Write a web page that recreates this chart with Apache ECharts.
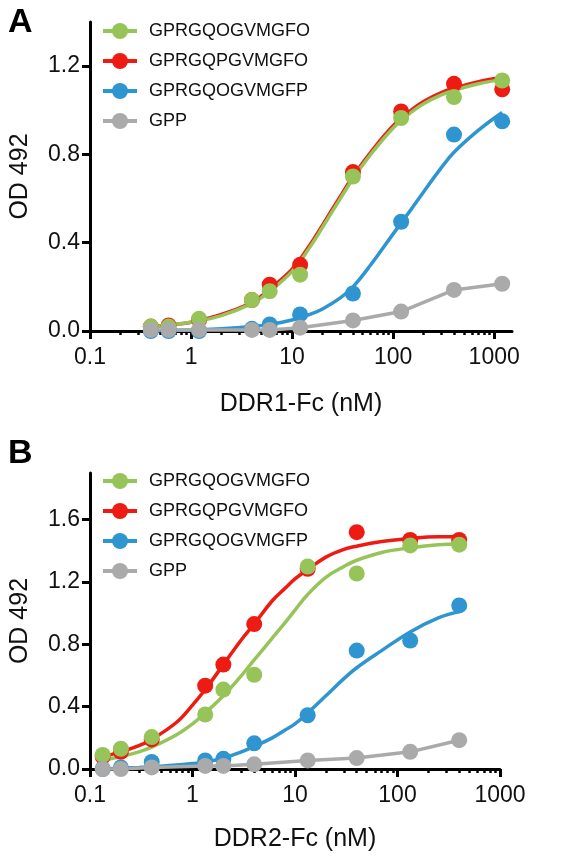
<!DOCTYPE html>
<html>
<head>
<meta charset="utf-8">
<script src="https://cdn.jsdelivr.net/npm/echarts@6/dist/echarts.min.js"></script>
<style>
html,body{margin:0;padding:0;background:#fff;}
#chart{width:566px;height:858px;}
</style>
</head>
<body>
<div id="chart"></div>
<script>
// ---------- DATA ----------
const seriesNames = ['GPRGQOGVMGFO', 'GPRGQPGVMGFO', 'GPRGQOGVMGFP', 'GPP'];

// Panel A: DDR1-Fc (nM)
const xA = [0.4, 0.6, 1.2, 4, 6, 12, 40, 120, 400, 1200];
const greenA = [0.02, 0.02, 0.055, 0.14, 0.18, 0.255, 0.70, 0.965, 1.06, 1.135];
const redA   = [0.02, 0.025, 0.05, 0.14, 0.21, 0.30, 0.72, 0.995, 1.12, 1.095];
const blueA  = [0.0, 0.0, 0.0, 0.01, 0.03, 0.075, 0.17, 0.495, 0.89, 0.95];
const greyA  = [0.005, 0.005, 0.005, 0.005, 0.005, 0.015, 0.048, 0.088, 0.186, 0.214];

// Panel A fitted curves
const curveXA = [0.4, 0.7, 1, 2, 4, 6, 10, 15, 20, 30, 40, 60, 100, 150, 200, 300, 400, 700, 1200];
const redCurveA   = [0.02, 0.03, 0.04, 0.075, 0.13, 0.19, 0.28, 0.39, 0.48, 0.61, 0.70, 0.81, 0.93, 1.00, 1.04, 1.08, 1.10, 1.13, 1.15];
const greenCurveA = [0.02, 0.03, 0.04, 0.07, 0.125, 0.18, 0.27, 0.38, 0.47, 0.60, 0.69, 0.80, 0.92, 0.99, 1.03, 1.07, 1.09, 1.12, 1.14];
const blueCurveXA = [0.4, 1, 2, 4, 6, 10, 15, 20, 30, 40, 60, 100, 150, 200, 300, 400, 700, 1200];
const blueCurveA  = [0.0, 0.005, 0.01, 0.02, 0.03, 0.05, 0.075, 0.10, 0.15, 0.20, 0.30, 0.44, 0.55, 0.63, 0.74, 0.81, 0.91, 0.99];

// Panel B: DDR2-Fc (nM)
const xB = [0.133, 0.2, 0.4, 1.33, 2, 4, 13.3, 40, 133, 400];
const greenB = [0.09, 0.13, 0.205, 0.35, 0.51, 0.605, 1.30, 1.255, 1.435, 1.44];
const redB   = [0.08, 0.11, 0.19, 0.535, 0.67, 0.93, 1.285, 1.52, 1.47, 1.47];
const blueB  = [0.0, 0.01, 0.045, 0.055, 0.065, 0.165, 0.345, 0.76, 0.825, 1.05];
const greyB  = [0.0, 0.0, 0.01, 0.02, 0.02, 0.03, 0.055, 0.07, 0.11, 0.185];

// Panel B fitted curves
const curveXB = [0.133, 0.2, 0.3, 0.4, 0.7, 1, 1.33, 2, 3, 4, 6, 8, 10, 13.3, 20, 30, 40, 70, 133, 250, 400];
const redCurveB   = [0.08, 0.11, 0.15, 0.19, 0.30, 0.41, 0.51, 0.67, 0.83, 0.93, 1.08, 1.16, 1.22, 1.28, 1.36, 1.41, 1.43, 1.46, 1.48, 1.49, 1.49];
const greenCurveB = [0.055, 0.08, 0.11, 0.14, 0.22, 0.29, 0.36, 0.47, 0.60, 0.70, 0.84, 0.94, 1.02, 1.12, 1.23, 1.30, 1.34, 1.39, 1.42, 1.44, 1.445];
const blueCurveB  = [0.0, 0.005, 0.01, 0.015, 0.025, 0.035, 0.045, 0.07, 0.11, 0.145, 0.20, 0.25, 0.29, 0.36, 0.47, 0.58, 0.65, 0.76, 0.88, 0.97, 1.01];

// Axis ticks
const xTickValues = [0.1, 1, 10, 100, 1000];
const xTickLabels = ['0.1', '1', '10', '100', '1000'];
const yTicksA = [0, 0.4, 0.8, 1.2];
const yTicksB = [0, 0.4, 0.8, 1.2, 1.6];
const yTickLabelsA = ['0.0', '0.4', '0.8', '1.2'];
const yTickLabelsB = ['0.0', '0.4', '0.8', '1.2', '1.6'];
const minorTicksX = [];
[0.1, 1, 10, 100, 1000].forEach(d => { for (let k = 2; k <= 9; k++) minorTicksX.push(+(k * d).toPrecision(3)); });

// ---------- STYLE ----------
const colors = {
  'GPRGQOGVMGFO': '#97c459',
  'GPRGQPGVMGFO': '#ee1b12',
  'GPRGQOGVMGFP': '#2f95d1',
  'GPP': '#aaaaaa'
};
const FONT = 'Liberation Sans, Arial, Helvetica, sans-serif';
const pairs = (xs, ys) => xs.map((x, i) => [x, ys[i]]);

const chart = echarts.init(document.getElementById('chart'), null, {renderer: 'canvas'});

function xAxesFor(gridIndex, max, name, nameGap) {
  const fmt = v => {
    const i = xTickValues.findIndex(t => Math.abs(t - v) < 1e-9 * Math.max(1, t));
    return i >= 0 ? xTickLabels[i] : '';
  };
  return [
    {
      type: 'log', logBase: 10, gridIndex, min: 0.1, max,
      name, nameLocation: 'middle', nameGap,
      nameTextStyle: {fontFamily: FONT, fontSize: 25, color: '#111'},
      axisLine: {show: true, lineStyle: {color: '#000', width: 3}},
      axisTick: {show: true, inside: false, length: 8, lineStyle: {color: '#000', width: 3}, customValues: xTickValues},
      axisLabel: {show: true, margin: 15, fontFamily: FONT, fontSize: 23, color: '#111', customValues: xTickValues, formatter: fmt},
      splitLine: {show: false}, minorTick: {show: false}
    },
    {
      type: 'log', logBase: 10, gridIndex, min: 0.1, max, position: 'bottom',
      axisLine: {show: false},
      axisTick: {show: true, inside: false, length: 4, lineStyle: {color: '#000', width: 2.5}, customValues: minorTicksX},
      axisLabel: {show: false},
      splitLine: {show: false}
    }
  ];
}

function yAxisFor(gridIndex, max, ticks, labels) {
  return {
    type: 'value', gridIndex, min: 0, max,
    name: 'OD 492', nameLocation: 'middle', nameGap: 57, nameRotate: 90,
    nameTextStyle: {fontFamily: FONT, fontSize: 25, color: '#111'},
    axisLine: {show: true, lineStyle: {color: '#000', width: 3}},
    axisTick: {show: true, length: 8, lineStyle: {color: '#000', width: 3}, customValues: ticks},
    axisLabel: {show: true, margin: 10, fontFamily: FONT, fontSize: 23, color: '#111', customValues: ticks,
      formatter: v => { const i = ticks.findIndex(t => Math.abs(t - v) < 1e-9); return i >= 0 ? labels[i] : ''; }},
    splitLine: {show: false}
  };
}

function curveSeries(name, xs, ys, xIdx, yIdx) {
  return {
    name, type: 'line', xAxisIndex: xIdx, yAxisIndex: yIdx,
    data: pairs(xs, ys), smooth: 0.4, symbol: 'none',
    lineStyle: {color: colors[name], width: 3.5},
    itemStyle: {color: colors[name]},
    silent: true, animation: false
  };
}
function pointSeries(name, xs, ys, xIdx, yIdx, connect) {
  return {
    name, type: 'line', xAxisIndex: xIdx, yAxisIndex: yIdx,
    data: pairs(xs, ys), symbol: 'circle', symbolSize: 16, showAllSymbol: true,
    lineStyle: connect ? {color: colors[name], width: 3.5} : {width: 0, opacity: 0},
    itemStyle: {color: colors[name], opacity: 1},
    silent: true, animation: false
  };
}

function panelSeries(xIdx, yIdx, xs, g, r, b, gr, cx, cr, cg, cbx, cb) {
  return [
    curveSeries('GPRGQPGVMGFO', cx, cr, xIdx, yIdx),
    pointSeries('GPRGQPGVMGFO', xs, r, xIdx, yIdx, false),
    curveSeries('GPRGQOGVMGFO', cx, cg, xIdx, yIdx),
    pointSeries('GPRGQOGVMGFO', xs, g, xIdx, yIdx, false),
    curveSeries('GPRGQOGVMGFP', cbx, cb, xIdx, yIdx),
    pointSeries('GPRGQOGVMGFP', xs, b, xIdx, yIdx, false),
    pointSeries('GPP', xs, gr, xIdx, yIdx, true)
  ];
}

function legendFor(top) {
  return {
    data: seriesNames, orient: 'vertical', left: 101, top, padding: 0,
    itemWidth: 34, itemHeight: 20, itemGap: 12,
    lineStyle: {width: 4},
    textStyle: {fontFamily: FONT, fontSize: 18, color: '#111', padding: [0, 0, 0, 7]},
    selectedMode: false
  };
}

const option = {
  backgroundColor: '#fff',
  animation: false,
  title: [
    {text: 'A', left: 3, top: 1, textStyle: {fontFamily: FONT, fontSize: 34, fontWeight: 'bold', color: '#000'}},
    {text: 'B', left: 3, top: 432, textStyle: {fontFamily: FONT, fontSize: 34, fontWeight: 'bold', color: '#000'}}
  ],
  legend: [legendFor(22), legendFor(472)],
  grid: [
    {left: 88, top: 22, width: 424, height: 309},
    {left: 88, top: 473, width: 412, height: 296}
  ],
  xAxis: [
    ...xAxesFor(0, 1500, 'DDR1-Fc (nM)', 61),
    ...xAxesFor(1, 1000, 'DDR2-Fc (nM)', 58)
  ],
  yAxis: [
    yAxisFor(0, 1.4, yTicksA, yTickLabelsA),
    yAxisFor(1, 1.9, yTicksB, yTickLabelsB)
  ],
  series: [
    ...panelSeries(0, 0, xA, greenA, redA, blueA, greyA, curveXA, redCurveA, greenCurveA, blueCurveXA, blueCurveA),
    ...panelSeries(2, 1, xB, greenB, redB, blueB, greyB, curveXB, redCurveB, greenCurveB, curveXB, blueCurveB)
  ]
};
chart.setOption(option);
</script>
</body>
</html>
